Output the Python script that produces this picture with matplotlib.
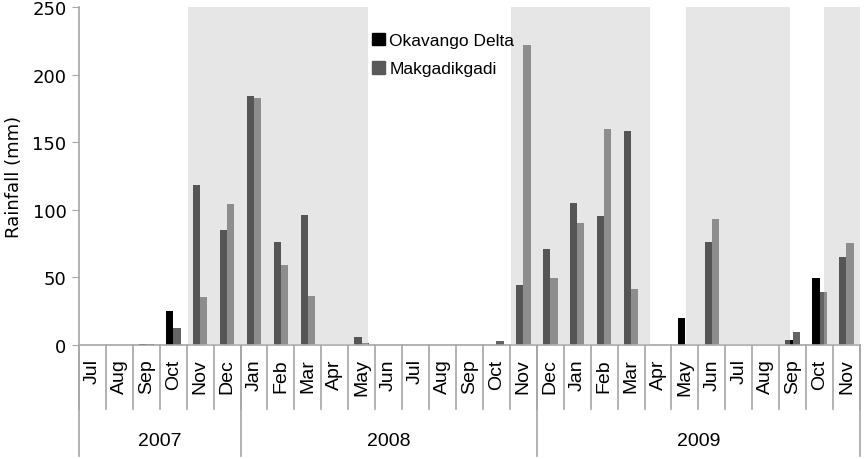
import numpy as np
import matplotlib.pyplot as plt
from matplotlib.patches import Patch

# ── Data ───────────────────────────────────────────────────────────────────
months = ["Jul", "Aug", "Sep", "Oct", "Nov", "Dec",
          "Jan", "Feb", "Mar", "Apr", "May", "Jun", "Jul", "Aug", "Sep", "Oct", "Nov",
          "Dec", "Jan", "Feb", "Mar", "Apr", "May", "Jun", "Jul", "Aug", "Sep", "Oct", "Nov"]
years = ["2007", "2008", "2009"]
year_sizes = [6, 11, 12]

okavango = [0, 0, 0.5, 25, 118, 85,
            184, 76, 96, 0, 5.5, 0, 0, 0, 0, 0, 44,
            71, 105, 95, 158, 0, 20, 76, 0, 0, 3, 49.5, 65]
makgadikgadi = [0, 0, 0.3, 12, 35, 104,
                183, 59, 36, 0, 1, 0, 0, 0, 0, 2.5, 222,
                49, 90, 160, 41, 0, 0, 93, 0, 0, 9, 39, 75]

# shaded (wet season) windows, in month-index units
seasons = [(3.55, 10.23), (15.54, 20.70), (22.04, 25.90), (27.16, 28.5)]

LINE = "#a6a6a6"
SANS = "Liberation Sans"

# ── Figure ─────────────────────────────────────────────────────────────────
fig = plt.figure(figsize=(8.66, 4.6), dpi=100)
ax = fig.add_axes([0.0912, 0.2489, 0.9018, 0.733])

x = np.arange(len(months))
w = 0.27
ax.bar(x - w / 2, okavango, w, color="black", zorder=2)
ax.bar(x + w / 2, makgadikgadi, w, color="#636363", zorder=2)

# translucent overlay so bars inside the season windows look washed out
for x0, x1 in seasons:
    ax.axvspan(x0, x1, color="#c6c6c6", alpha=0.43, lw=0, zorder=3)

ax.set_xlim(-0.5, len(months) - 0.5)
ax.set_ylim(0, 250)
ax.set_yticks(range(0, 251, 50))
ax.tick_params(axis="y", direction="out", length=5, color=LINE,
               labelsize=13, pad=4)
ax.set_ylabel("Rainfall (mm)", fontsize=13, labelpad=7)

for side in ["top", "right"]:
    ax.spines[side].set_visible(False)
for side in ["left", "bottom"]:
    ax.spines[side].set_color(LINE)
    ax.spines[side].set_linewidth(1.2)

# ── Two-level category axis ────────────────────────────────────────────────
ax.set_xticks(x)
ax.set_xticklabels(months, rotation=90, fontsize=14, family=SANS, va="top")
ax.tick_params(axis="x", length=0, pad=10)

trans = ax.get_xaxis_transform()
for i in range(len(months) + 1):
    ax.plot([i - 0.5, i - 0.5], [0, -0.191], color=LINE, lw=1.2,
            transform=trans, clip_on=False)

start = 0
edges = [0]
for yr, n in zip(years, year_sizes):
    ax.text(start + n / 2 - 0.5, -0.286, yr, transform=trans,
            ha="center", va="center", fontsize=14, family=SANS)
    start += n
    edges.append(start)
for e in edges:
    ax.plot([e - 0.5, e - 0.5], [0, -0.331], color=LINE, lw=1.2,
            transform=trans, clip_on=False)

# ── Legend ─────────────────────────────────────────────────────────────────
handles = [Patch(color="black", label="Okavango Delta"),
           Patch(color="#5a5a5a", label="Makgadikgadi")]
ax.legend(handles=handles, loc="upper left", bbox_to_anchor=(0.375, 0.925),
          frameon=False, prop={"family": SANS, "size": 12.5},
          handlelength=0.75, handleheight=0.75, handletextpad=0.25,
          labelspacing=0.75, borderpad=0, borderaxespad=0)

fig.savefig("out.png", dpi=100)
